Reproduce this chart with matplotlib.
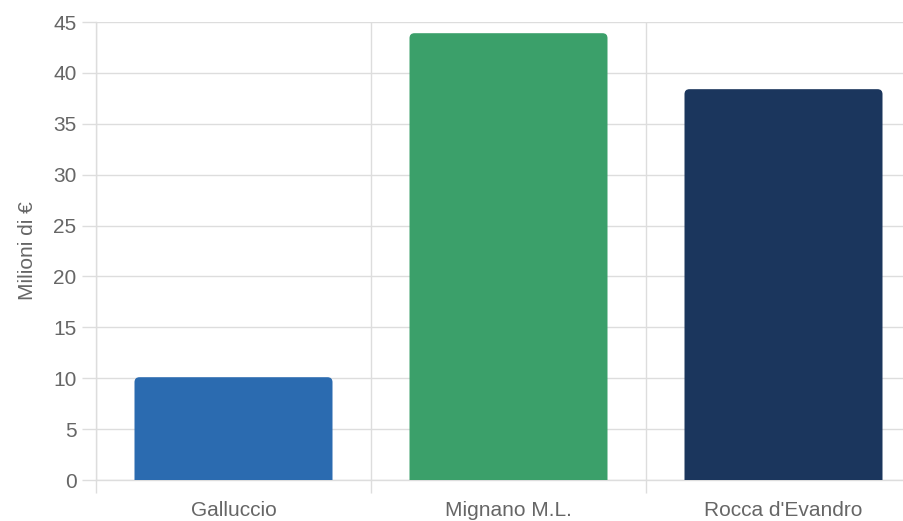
import numpy as np
import matplotlib
matplotlib.use('Agg')
import matplotlib.pyplot as plt
from matplotlib.path import Path
from matplotlib.patches import PathPatch

plt.rcParams['font.family'] = ['Liberation Sans', 'DejaVu Sans']

# dati (milioni di euro)
comuni = ['Galluccio', 'Mignano M.L.', "Rocca d'Evandro"]
valori = [10.1, 43.9, 38.4]
colori = ['#2B6BB0', '#3BA06A', '#1B365D']
y_ticks = np.arange(0, 50, 5)

W, H = 904, 521
fig = plt.figure(figsize=(W / 100, H / 100), dpi=100)
# l'area del grafico esce un po' dal bordo destro, come nell'originale
ax = fig.add_axes([96 / W, 41 / H, 825 / W, 458 / H])

ax.set_xlim(-0.5, 2.5)
ax.set_ylim(0, 45)

grid_c = '#dddddd'
txt_c = '#666666'

bars = ax.bar(np.arange(len(comuni)), valori, width=0.72, color=colori)

# angoli superiori arrotondati (raggio ~5 px)
px_x = 3.0 / 825
px_y = 45.0 / 458
r = 5
for b in bars:
    x0, w, h = b.get_x(), b.get_width(), b.get_height()
    rx, ry = r * px_x, r * px_y
    verts = [(x0, 0), (x0, h - ry), (x0, h), (x0 + rx, h),
             (x0 + w - rx, h), (x0 + w, h), (x0 + w, h - ry),
             (x0 + w, 0), (x0, 0)]
    codes = [Path.MOVETO, Path.LINETO, Path.CURVE3, Path.CURVE3,
             Path.LINETO, Path.CURVE3, Path.CURVE3,
             Path.LINETO, Path.CLOSEPOLY]
    patch = PathPatch(Path(verts, codes), facecolor=b.get_facecolor(),
                      edgecolor='none', zorder=3)
    b.set_visible(False)
    ax.add_patch(patch)

# griglia
ax.set_yticks(y_ticks)
ax.set_yticklabels(y_ticks)
ax.set_xticks(np.arange(len(comuni)))
ax.set_xticklabels(comuni)
ax.set_xticks([-0.5, 0.5, 1.5, 2.5], minor=True)
ax.grid(axis='y', color=grid_c, linewidth=1, zorder=0)
ax.grid(axis='x', which='minor', color=grid_c, linewidth=1, zorder=0)
ax.set_axisbelow(True)

ax.tick_params(axis='y', length=10, width=1, color=grid_c, pad=4,
               labelsize=15, labelcolor=txt_c)
ax.tick_params(axis='x', which='major', length=0, pad=15,
               labelsize=15, labelcolor=txt_c)
ax.tick_params(axis='x', which='minor', length=9.5, width=1, color=grid_c)

for s in ['top', 'right']:
    ax.spines[s].set_visible(False)
for s in ['left', 'bottom']:
    ax.spines[s].set_color(grid_c)
    ax.spines[s].set_linewidth(1)

ax.set_ylabel('Milioni di €', fontsize=15, color=txt_c, labelpad=12)

fig.savefig('out.png', dpi=100)
